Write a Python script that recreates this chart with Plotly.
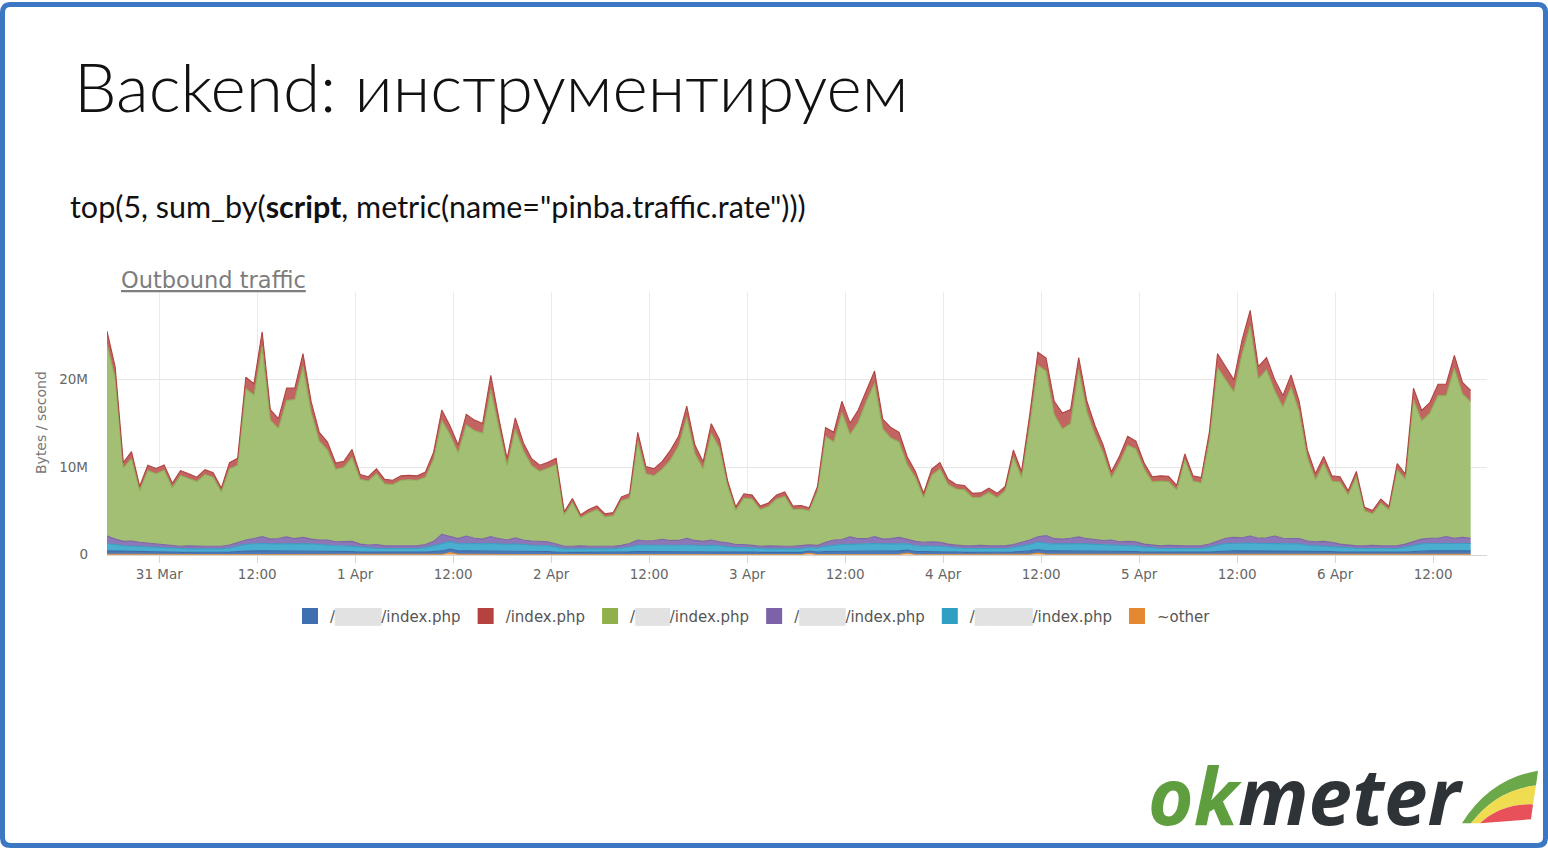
import plotly.graph_objects as go
import pandas as pd

W, H = 1548, 856

# ---------------- data (values in M bytes/second, hourly) ----------------
start_time = "2016-03-30 17:36"
n_points = 168

other = [0.05,0.04,0.03,0.03,0.03,0.03,0.02, 0.02,0.02,0.02,0.02,0.02,0.02,0.02,0.02,0.02, 0.03,0.04,0.05,0.04,0.04,0.05,0.04,0.04,
         0.04,0.04,0.03,0.03,0.03,0.03,0.03, 0.02,0.02,0.02,0.02,0.02,0.02,0.02,0.02,0.02, 0.03,0.04,0.25,0.05,0.04,0.04,0.04,0.04,
         0.04,0.04,0.04,0.03,0.03,0.03,0.03, 0.02,0.02,0.02,0.02,0.02,0.02,0.02,0.02,0.02, 0.03,0.03,0.03,0.03,0.03,0.03,0.04,0.04,
         0.04,0.03,0.03,0.03,0.03,0.02,0.02, 0.02,0.02,0.02,0.02,0.02,0.02,0.02,0.18,0.02, 0.03,0.04,0.04,0.04,0.04,0.04,0.04,0.04,
         0.04,0.04,0.20,0.03,0.03,0.03,0.03, 0.02,0.02,0.02,0.02,0.02,0.02,0.02,0.02,0.02, 0.03,0.04,0.20,0.04,0.04,0.04,0.04,0.04,
         0.04,0.04,0.03,0.03,0.03,0.03,0.03, 0.02,0.02,0.02,0.02,0.02,0.02,0.02,0.02,0.02, 0.03,0.04,0.04,0.04,0.04,0.04,0.04,0.04,
         0.04,0.04,0.04,0.03,0.03,0.03,0.03, 0.02,0.02,0.02,0.02,0.02,0.02,0.02,0.02,0.02, 0.03,0.04,0.04,0.04,0.04,0.04,0.04,0.04]

blue = [0.4,0.4,0.35,0.35,0.35,0.35,0.3, 0.3,0.3,0.25,0.25,0.25,0.25,0.25,0.25,0.3, 0.35,0.4,0.4,0.4,0.4,0.4,0.4,0.4,
        0.4,0.4,0.4,0.35,0.35,0.35,0.35, 0.3,0.3,0.25,0.25,0.25,0.25,0.25,0.25,0.3, 0.35,0.4,0.4,0.4,0.4,0.4,0.4,0.4,
        0.4,0.4,0.4,0.35,0.35,0.35,0.35, 0.3,0.25,0.25,0.25,0.25,0.25,0.25,0.25,0.3, 0.3,0.35,0.35,0.35,0.35,0.35,0.35,0.35,
        0.35,0.35,0.35,0.35,0.3,0.3,0.3, 0.3,0.25,0.25,0.25,0.25,0.25,0.25,0.25,0.3, 0.35,0.35,0.4,0.4,0.4,0.4,0.4,0.4,
        0.4,0.4,0.35,0.35,0.35,0.35,0.35, 0.3,0.3,0.25,0.25,0.25,0.25,0.25,0.25,0.3, 0.35,0.4,0.4,0.4,0.4,0.4,0.4,0.4,
        0.4,0.4,0.4,0.35,0.35,0.35,0.35, 0.3,0.3,0.25,0.25,0.25,0.25,0.25,0.25,0.3, 0.35,0.4,0.4,0.4,0.4,0.4,0.4,0.4,
        0.4,0.4,0.4,0.35,0.35,0.35,0.35, 0.3,0.3,0.25,0.25,0.25,0.25,0.25,0.25,0.3, 0.35,0.4,0.4,0.4,0.4,0.4,0.4,0.4]

cyan = [0.8,0.75,0.65,0.6,0.6,0.55,0.55, 0.5,0.45,0.4,0.4,0.4,0.4,0.4,0.4,0.45, 0.6,0.75,0.8,0.85,0.8,0.8,0.85,0.85,
        0.85,0.8,0.75,0.7,0.65,0.65,0.6, 0.55,0.5,0.45,0.45,0.45,0.45,0.45,0.45,0.5, 0.65,0.8,0.85,0.8,0.85,0.85,0.8,0.85,
        0.8,0.75,0.8,0.75,0.7,0.65,0.65, 0.55,0.4,0.4,0.4,0.4,0.4,0.4,0.4,0.45, 0.55,0.7,0.7,0.7,0.7,0.7,0.75,0.75,
        0.7,0.65,0.7,0.65,0.6,0.5,0.5, 0.45,0.4,0.4,0.4,0.4,0.4,0.4,0.4,0.45, 0.6,0.7,0.75,0.75,0.8,0.8,0.85,0.8,
        0.8,0.75,0.7,0.65,0.6,0.6,0.6, 0.55,0.5,0.45,0.45,0.45,0.45,0.45,0.45,0.5, 0.6,0.75,0.85,0.85,0.8,0.8,0.8,0.85,
        0.8,0.75,0.7,0.7,0.65,0.65,0.65, 0.55,0.5,0.45,0.45,0.45,0.45,0.45,0.45,0.55, 0.7,0.85,0.85,0.9,0.9,0.85,0.85,0.85,
        0.85,0.85,0.8,0.7,0.65,0.65,0.6, 0.55,0.5,0.45,0.45,0.45,0.45,0.45,0.45,0.55, 0.7,0.8,0.85,0.85,0.85,0.85,0.85,0.85]

purple = [0.9,0.6,0.5,0.6,0.45,0.4,0.4, 0.35,0.3,0.3,0.35,0.3,0.3,0.3,0.3,0.35, 0.45,0.5,0.6,0.8,0.55,0.6,0.75,0.55,
          0.7,0.55,0.5,0.6,0.45,0.45,0.55, 0.35,0.3,0.45,0.3,0.3,0.3,0.35,0.3,0.35, 0.5,1.1,0.55,0.6,0.85,0.6,0.55,0.8,
          0.6,0.5,0.7,0.55,0.5,0.5,0.45, 0.35,0.3,0.3,0.35,0.3,0.3,0.35,0.3,0.3, 0.4,0.6,0.5,0.55,0.7,0.55,0.5,0.75,
          0.55,0.5,0.6,0.45,0.45,0.35,0.35, 0.3,0.3,0.35,0.3,0.3,0.3,0.35,0.3,0.3, 0.45,0.6,0.55,0.85,0.6,0.6,0.8,0.55,
          0.6,0.8,0.55,0.5,0.45,0.5,0.45, 0.35,0.3,0.3,0.3,0.35,0.3,0.3,0.3,0.35, 0.45,0.5,0.6,0.9,0.6,0.55,0.65,0.75,
          0.6,0.55,0.5,0.6,0.45,0.5,0.45, 0.35,0.3,0.3,0.35,0.3,0.3,0.3,0.3,0.35, 0.5,0.6,0.7,0.6,0.8,0.6,0.65,0.85,
          0.6,0.55,0.6,0.5,0.45,0.5,0.45, 0.35,0.3,0.3,0.3,0.35,0.3,0.3,0.3,0.35, 0.45,0.55,0.6,0.6,0.8,0.6,0.7,0.6]

green = [21.9,18.4,8.4,9.4,5.9,8.3,8.0, 8.5,6.6,8.1,7.7,7.4,8.2,7.9,6.2,8.7, 8.8,17.3,16.4,21.7,13.6,12.6,15.6,15.9,
         19.5,14.5,11.3,10.3,8.3,8.5,9.6, 7.4,7.3,8.1,7.1,7.0,7.5,7.5,7.5,7.7, 9.4,13.0,11.7,9.8,12.7,12.3,12.1,16.8,
         12.6,8.5,12.4,10.2,8.6,8.0,8.4, 9.1,3.6,5.0,3.2,3.8,4.2,3.3,3.5,5.1, 5.2,11.3,7.7,7.4,8.0,9.2,10.8,13.8,
         9.9,8.3,12.2,10.7,6.5,3.9,5.3, 5.3,4.2,4.5,5.4,5.7,4.2,4.2,3.9,6.2, 12.1,11.2,14.5,11.7,13.3,15.7,17.5,12.6,
         11.5,10.9,8.5,7.3,5.1,7.6,8.4, 6.8,6.4,6.4,5.5,5.5,6.1,5.5,6.3,10.0, 7.4,13.1,19.6,18.8,14.2,12.6,13.1,19.1,
         14.5,12.0,10.0,7.1,9.0,11.0,10.6, 8.6,7.2,7.4,7.3,6.4,9.8,7.4,7.2,11.8, 19.8,18.1,16.6,21.0,24.0,18.2,19.2,16.6,
         15.0,17.3,14.5,9.5,7.1,8.9,7.0, 7.1,5.7,7.9,4.0,3.6,4.9,4.1,8.7,7.4, 16.2,13.5,14.3,16.3,16.1,19.4,16.4,15.6]

red = [1.5,1.3,0.6,0.8,0.5,0.6,0.6, 0.6,0.5,0.55,0.55,0.5,0.55,0.5,0.45,0.7, 0.8,1.3,1.3,1.7,1.2,1.1,1.4,1.3,
       1.5,1.2,1.0,0.9,0.7,0.7,0.9, 0.55,0.5,0.55,0.5,0.5,0.5,0.5,0.5,0.6, 0.8,1.2,1.0,0.9,1.2,1.2,1.1,1.6,
       1.1,0.8,1.3,0.9,0.8,0.7,0.7, 0.7,0.35,0.45,0.35,0.4,0.4,0.35,0.35,0.45, 0.5,1.0,0.8,0.8,0.9,1.1,1.1,1.3,
       1.0,0.8,1.1,1.0,0.6,0.4,0.5, 0.45,0.4,0.4,0.45,0.5,0.4,0.4,0.35,0.5, 1.0,1.1,1.3,1.3,1.4,1.3,1.4,1.1,
       1.2,1.1,0.9,0.7,0.5,0.7,0.7, 0.6,0.5,0.5,0.5,0.5,0.5,0.5,0.5,0.8, 0.7,1.2,1.5,1.5,1.5,1.8,1.6,1.4,
       1.2,1.0,0.9,0.7,0.8,1.0,0.9, 0.7,0.6,0.6,0.6,0.5,0.7,0.6,0.6,1.0, 1.6,1.5,1.4,1.6,1.8,1.4,1.4,1.3,
       1.3,1.4,1.2,0.9,0.7,0.8,0.6, 0.6,0.5,0.6,0.4,0.4,0.45,0.4,0.7,0.6, 1.3,1.2,1.2,1.3,1.3,1.5,1.3,1.3]

tick_times = ["2016-03-31 00:00", "2016-03-31 12:00", "2016-04-01 00:00", "2016-04-01 12:00",
              "2016-04-02 00:00", "2016-04-02 12:00", "2016-04-03 00:00", "2016-04-03 12:00",
              "2016-04-04 00:00", "2016-04-04 12:00", "2016-04-05 00:00", "2016-04-05 12:00",
              "2016-04-06 00:00", "2016-04-06 12:00"]
tick_labels = ["31 Mar", "12:00", "1 Apr", "12:00", "2 Apr", "12:00", "3 Apr", "12:00",
               "4 Apr", "12:00", "5 Apr", "12:00", "6 Apr", "12:00"]
y_tick_vals = [0, 10, 20]
y_tick_labels = ["0", "10M", "20M"]

blur4 = "<span style='color:#e2e2e2'>████</span>"
blur3 = "<span style='color:#e2e2e2'>███</span>"
blur5 = "<span style='color:#e2e2e2'>█████</span>"
legend_names = ["/" + blur4 + "/index.php", "/index.php", "/" + blur3 + "/index.php",
                "/" + blur4 + "/index.php", "/" + blur5 + "/index.php", "~other"]
legend_colors = ["#3e6fb0", "#b5423d", "#8fb04a", "#7e62a8", "#2f9fc2", "#e4892f"]

times = pd.date_range(start_time, periods=n_points, freq="h")

# ---------------- helpers for page-pixel layout ----------------
def px(x):
    return x / W

def py(y):
    return 1 - y / H

fig = go.Figure()

# stack order bottom -> top
layers = [
    (other, "#e89a50", "#e08a30"),
    (blue, "#4a78b8", "#3e6aa8"),
    (cyan, "#4aaed0", "#3a9ec0"),
    (purple, "#8c78b6", "#7e64a8"),
    (green, "#a3bf73", "#8fae58"),
    (red, "#c26461", "#b04441"),
]
for vals, fillc, linec in layers:
    fig.add_trace(go.Scatter(
        x=times, y=vals, mode="lines", stackgroup="one",
        fillcolor=fillc, line=dict(color=linec, width=1.1),
        showlegend=False, hoverinfo="skip"))

# legend entries (square swatches)
for name, col in zip(legend_names, legend_colors):
    fig.add_trace(go.Scatter(
        x=[None], y=[None], mode="markers", name=name,
        marker=dict(symbol="square", size=16, color=col), showlegend=True))

fig.update_layout(
    width=W, height=H, autosize=False,
    margin=dict(l=0, r=0, t=0, b=0),
    paper_bgcolor="white", plot_bgcolor="white",
    xaxis=dict(
        domain=[px(107), px(1487)],
        type="date",
        range=["2016-03-30 17:36", "2016-04-06 18:36"],
        tickmode="array", tickvals=tick_times, ticktext=tick_labels,
        showgrid=True, gridcolor="#ebebeb", gridwidth=1,
        showline=True, linecolor="#d6d6d6", linewidth=1,
        ticks="outside", ticklen=7, tickcolor="#d6d6d6",
        tickfont=dict(family="DejaVu Sans", size=13.5, color="#666666"),
        zeroline=False, fixedrange=True,
    ),
    yaxis=dict(
        domain=[py(560), py(295)],
        range=[0, 30],
        tickmode="array", tickvals=y_tick_vals, ticktext=y_tick_labels,
        showgrid=True, gridcolor="#e6e6e6", gridwidth=1,
        zeroline=False, showline=False, ticks="",
        ticklabelstandoff=18,
        tickfont=dict(family="DejaVu Sans", size=13.5, color="#666666"),
        fixedrange=True,
    ),
    legend=dict(
        orientation="h", x=px(753), xanchor="center", y=py(622), yanchor="middle",
        font=dict(family="DejaVu Sans", size=15, color="#555555"),
        itemwidth=30, bgcolor="rgba(0,0,0,0)", traceorder="normal",
    ),
    showlegend=True,
)

annotations = [
    dict(text="Backend: инструментируем", x=px(72), y=py(86), xanchor="left", yanchor="middle",
         font=dict(family="Lato", size=67.5, color="#111111", weight=300)),
    dict(text='top(5, sum_by(<b>script</b>, metric(name="pinba.traffic.rate")))',
         x=px(68), y=py(208), xanchor="left", yanchor="middle",
         font=dict(family="Lato", size=30.5, color="#111111")),
    dict(text="<u>Outbound traffic</u>", x=px(119), y=py(283), xanchor="left", yanchor="middle",
         font=dict(family="DejaVu Sans", size=22.5, color="#7d7d7d")),
    dict(text="Bytes / second", x=px(41), y=py(427), xanchor="center", yanchor="middle",
         textangle=-90, font=dict(family="DejaVu Sans", size=14, color="#777777")),
    dict(text="<b><i><span style='color:#5e9e3e'>ok</span><span style='color:#2e3338'>meter</span></i></b>",
         x=px(1146), y=py(802), xanchor="left", yanchor="middle",
         font=dict(family="Open Sans", size=78, color="#2e3338", weight=800)),
]
for a in annotations:
    a.update(xref="paper", yref="paper", showarrow=False)
fig.update_layout(annotations=annotations)

def path(points, close=True):
    s = ""
    for p in points:
        cmd = p[0]
        coords = p[1:]
        s += cmd + " " + " ".join(
            f"{px(coords[j]):.5f},{py(coords[j+1]):.5f}" for j in range(0, len(coords), 2)) + " "
    return s + ("Z" if close else "")

shapes = []
# logo swoosh
shapes.append(dict(type="path", xref="paper", yref="paper",
                   path=path([("M", 1462, 831), ("Q", 1490, 786, 1538, 778), ("L", 1536, 793),
                              ("Q", 1497, 797, 1471, 831)]),
                   fillcolor="#6aa84a", line=dict(width=0)))
shapes.append(dict(type="path", xref="paper", yref="paper",
                   path=path([("M", 1471, 831), ("Q", 1497, 797, 1536, 793), ("L", 1533, 812),
                              ("Q", 1501, 811, 1480, 831)]),
                   fillcolor="#f0dc50", line=dict(width=0)))
shapes.append(dict(type="path", xref="paper", yref="paper",
                   path=path([("M", 1480, 831), ("Q", 1501, 811, 1533, 812), ("L", 1531, 827),
                              ("L", 1480, 831)]),
                   fillcolor="#e8505a", line=dict(width=0)))
# slide border (rounded)
r = 8
x0, y0, x1, y1 = 2.5, 4.5, 1545.5, 853.5
shapes.append(dict(type="path", xref="paper", yref="paper",
                   path=path([("M", x0 + r, y0), ("L", x1 - r, y0), ("Q", x1, y0, x1, y0 + r),
                              ("L", x1, y1 - r), ("Q", x1, y1, x1 - r, y1), ("L", x0 + r, y1),
                              ("Q", x0, y1, x0, y1 - r), ("L", x0, y0 + r), ("Q", x0, y0, x0 + r, y0)]),
                   line=dict(color="#3b77c2", width=5), fillcolor="rgba(0,0,0,0)"))
fig.update_layout(shapes=shapes)

fig.write_html("out.html",
               config={"responsive": False, "displayModeBar": False},
               post_script="document.body.style.margin='0px';document.body.style.padding='0px';"
                           "document.body.style.overflow='hidden';")
